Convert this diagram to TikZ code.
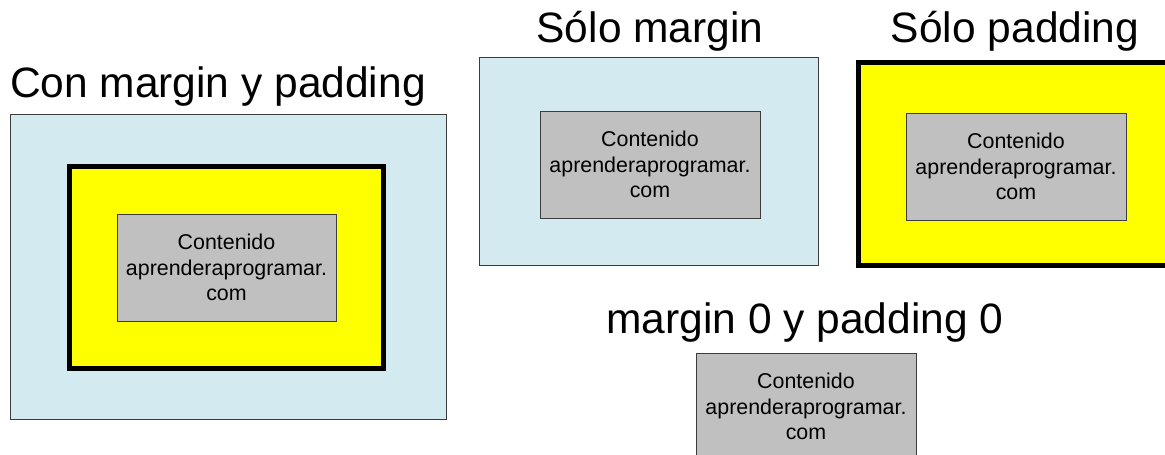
\documentclass[tikz,border=0pt]{standalone}
\usepackage{fontspec}
\setmainfont{Liberation Sans}
\definecolor{marginblue}{RGB}{210,234,240}
\definecolor{contentgray}{RGB}{192,192,192}
\definecolor{edgegray}{RGB}{60,60,60}
\definecolor{paddingyellow}{RGB}{255,255,0}
\begin{document}
\begin{tikzpicture}[x=1pt,y=-1pt,
  every node/.style={inner sep=0pt,outer sep=0pt},
  marginbox/.style={draw=edgegray,line width=1pt,fill=marginblue,rectangle},
  paddingbox/.style={draw=black,line width=5pt,fill=paddingyellow,rectangle},
  contentbox/.style={draw=edgegray,line width=1pt,fill=contentgray,rectangle,
    minimum width=219pt,minimum height=107pt,align=center,
    font=\fontsize{21.4}{25.5}\selectfont},
  heading/.style={font=\fontsize{42.5}{50}\selectfont}]
\clip (0,0) rectangle (1165,455);
\fill[white] (0,0) rectangle (1165,455);

% Con margin y padding
\node[heading,anchor=base west] (t1) at (10,97) {Con margin y padding};
\node[marginbox,minimum width=436pt,minimum height=305pt] (m1) at (228,266.5) {};
\node[paddingbox,minimum width=314pt,minimum height=202pt] (p1) at (226.5,267.5) {};
\node[contentbox] (c1) at (226.5,267.5) {Contenido\\aprenderaprogramar.\\com};

% Sólo margin
\node[heading,anchor=base] (t2) at (650,42) {Sólo margin};
\node[marginbox,minimum width=339pt,minimum height=208pt] (m2) at (648.5,161) {};
\node[contentbox,minimum width=220pt] (c2) at (650,164.5) {Contenido\\aprenderaprogramar.\\com};

% Sólo padding
\node[heading,anchor=base] (t3) at (1015,42) {Sólo padding};
\node[paddingbox,minimum width=315pt,minimum height=203pt] (p3) at (1016,164) {};
\node[contentbox,minimum width=220pt] (c3) at (1016,166.5) {Contenido\\aprenderaprogramar.\\com};

% margin 0 y padding 0
\node[heading,anchor=base] (t4) at (805,333) {margin 0 y padding 0};
\node[contentbox,minimum width=220pt] (c4) at (806,406.5) {Contenido\\aprenderaprogramar.\\com};
\end{tikzpicture}
\end{document}
